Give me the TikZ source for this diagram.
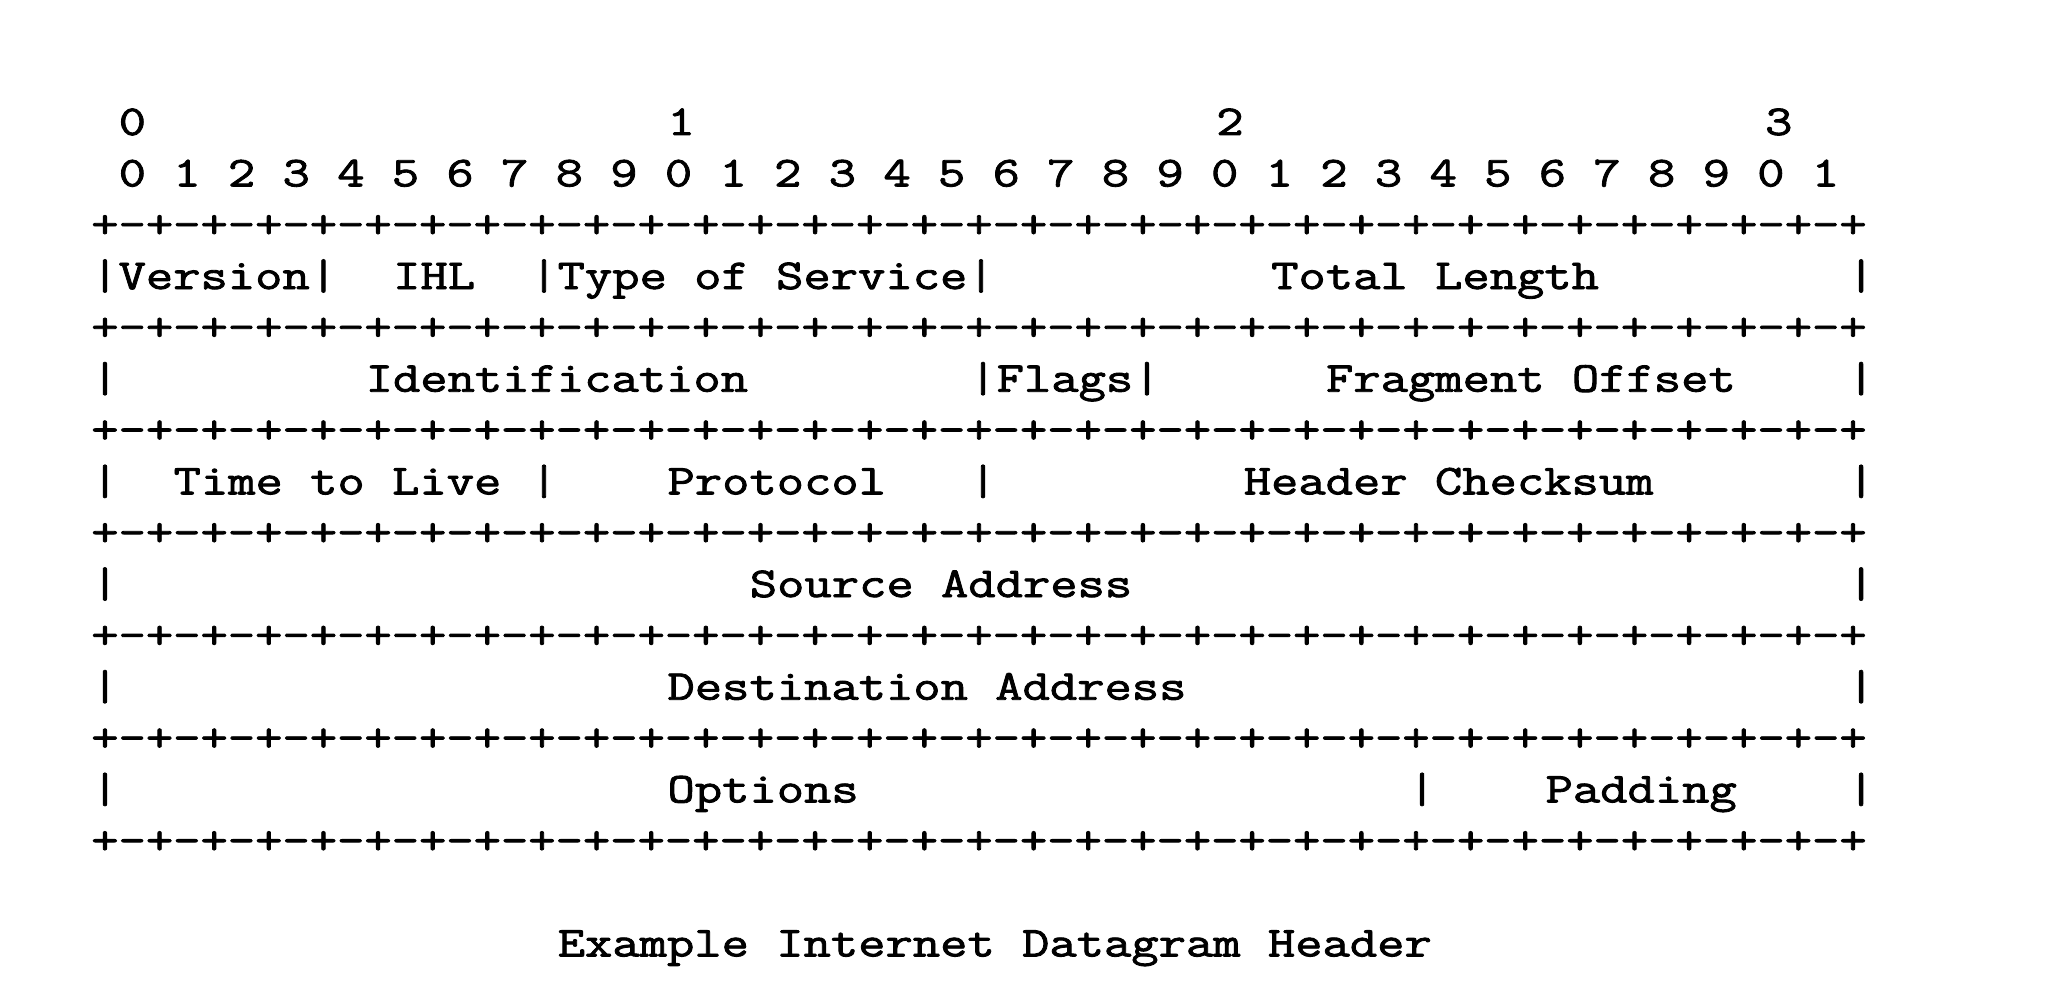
\documentclass[tikz,border=0pt]{standalone}
\usepackage{fontspec}
\newfontfamily\hdrfont{Latin Modern Mono}[FakeStretch=1.245,FakeBold=2]
\newcommand\fld[4]{\node[txt] (#1) at ({45.64+13.72*(#2)},{67.5+25.67*(#3)}) {#4};}
\newcommand\bordr[2]{\fld{#1}{0}{#2}{+-+-+-+-+-+-+-+-+-+-+-+-+-+-+-+-+-+-+-+-+-+-+-+-+-+-+-+-+-+-+-+-+}}
\begin{document}
\begin{tikzpicture}[x=1pt,y=-1pt,
  txt/.style={anchor=base west, inner sep=0pt, outer sep=0pt,
    font=\hdrfont\fontsize{21.3}{26}\selectfont}]
\useasboundingbox[fill=white] (0,0) rectangle (1034,502);
% bit numbers
\fld{t0}{1}{0}{0}
\fld{t1}{21}{0}{1}
\fld{t2}{41}{0}{2}
\fld{t3}{61}{0}{3}
\fld{units}{1}{1}{0 1 2 3 4 5 6 7 8 9 0 1 2 3 4 5 6 7 8 9 0 1 2 3 4 5 6 7 8 9 0 1}
% borders
\bordr{b2}{2}
\bordr{b4}{4}
\bordr{b6}{6}
\bordr{b8}{8}
\bordr{b10}{10}
\bordr{b12}{12}
\bordr{b14}{14}
% row 1
\fld{ver}{0}{3}{|Version|}
\fld{ihl}{11}{3}{IHL}
\fld{tos}{16}{3}{|Type of Service|}
\fld{tlen}{43}{3}{Total Length}
\fld{r3e}{64}{3}{|}
% row 2
\fld{r5a}{0}{5}{|}
\fld{ident}{10}{5}{Identification}
\fld{flags}{32}{5}{|Flags|}
\fld{frag}{45}{5}{Fragment Offset}
\fld{r5e}{64}{5}{|}
% row 3
\fld{r7a}{0}{7}{|}
\fld{ttl}{3}{7}{Time to Live}
\fld{r7b}{16}{7}{|}
\fld{proto}{21}{7}{Protocol}
\fld{r7c}{32}{7}{|}
\fld{csum}{42}{7}{Header Checksum}
\fld{r7e}{64}{7}{|}
% row 4
\fld{r9a}{0}{9}{|}
\fld{src}{24}{9}{Source Address}
\fld{r9e}{64}{9}{|}
% row 5
\fld{r11a}{0}{11}{|}
\fld{dst}{21}{11}{Destination Address}
\fld{r11e}{64}{11}{|}
% row 6
\fld{r13a}{0}{13}{|}
\fld{opts}{21}{13}{Options}
\fld{r13b}{48}{13}{|}
\fld{pad}{53}{13}{Padding}
\fld{r13e}{64}{13}{|}
% caption
\fld{cap}{17}{16}{Example Internet Datagram Header}
\end{tikzpicture}
\end{document}
